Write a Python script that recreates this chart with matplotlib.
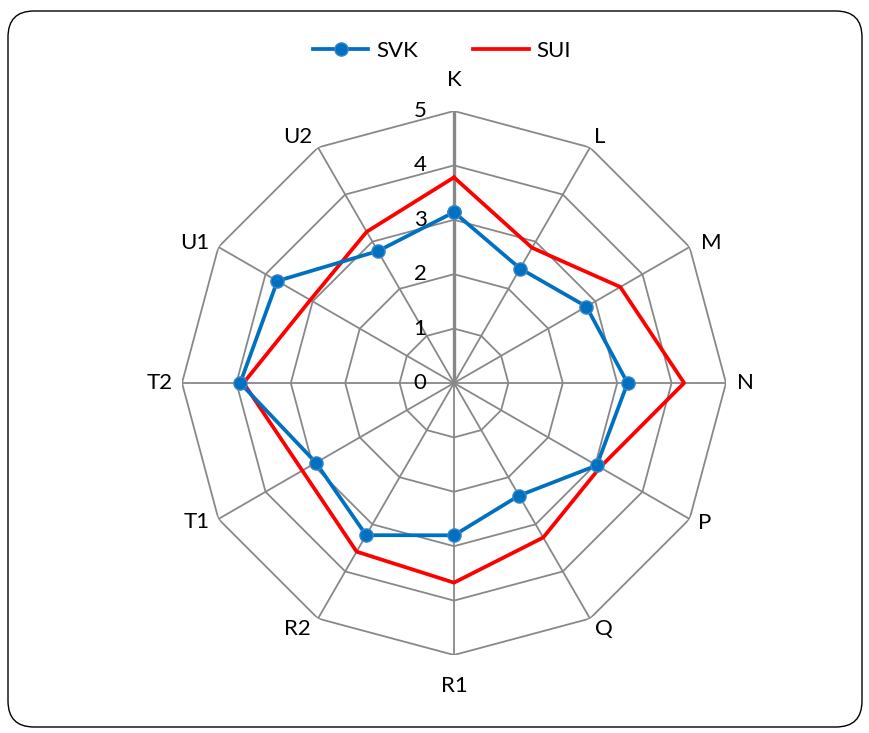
import numpy as np
import matplotlib
matplotlib.use("Agg")
import matplotlib.pyplot as plt
from matplotlib.patches import FancyBboxPatch

plt.rcParams['font.family'] = ['Lato', 'DejaVu Sans']

categories = ["K", "L", "M", "N", "P", "Q", "R1", "R2", "T1", "T2", "U1", "U2"]
svk = [3.14, 2.43, 2.81, 3.19, 3.03, 2.39, 2.80, 3.23, 2.93, 3.93, 3.75, 2.80]
sui = [3.78, 2.87, 3.53, 4.23, 3.10, 3.28, 3.67, 3.58, 3.22, 3.87, 3.05, 3.21]
rticks = [0, 1, 2, 3, 4, 5]

W, H = 869, 733
fig = plt.figure(figsize=(W / 100, H / 100), dpi=100)

# rounded outer frame
frame = FancyBboxPatch((8 / W, 6 / H), 854 / W, 716 / H,
                       boxstyle="round,pad=0,rounding_size=0.03",
                       transform=fig.transFigure, fill=False,
                       edgecolor="black", linewidth=1.0, zorder=0,
                       mutation_aspect=W / H)
fig.patches.append(frame)

cx, cy, R = 454, 383, 272
ax = fig.add_axes([(cx - R) / W, (H - cy - R) / H, 2 * R / W, 2 * R / H],
                  projection="polar")
ax.set_theta_zero_location("N")
ax.set_theta_direction(-1)
ax.set_ylim(0, 5)
ax.grid(False)
ax.spines["polar"].set_visible(False)
ax.set_xticks([])
ax.set_yticks([])
ax.patch.set_alpha(0)

n = len(categories)
angles = np.linspace(0, 2 * np.pi, n, endpoint=False)
closed = np.concatenate([angles, angles[:1]])

grid_col = "#888888"
for r in rticks[1:]:
    ax.plot(closed, [r] * (n + 1), color=grid_col, lw=1.3, zorder=1)
for i, a in enumerate(angles):
    ax.plot([a, a], [0, 5], color=grid_col, lw=2.4 if i == 0 else 1.3, zorder=1)

# radial value labels beside the top spoke
for r in rticks:
    ax.annotate(str(r), xy=(0, r), xytext=(-34, 0), textcoords="offset pixels",
                ha="center", va="center", fontsize=16, color="black")

# category labels around the web
label_offsets = [(0, 31), (10, 10), (22, 4), (19, 0), (15, -4), (14, -10),
                 (0, -31), (-21, -10), (-22, -3), (-22, 0), (-24, 4), (-20, 10)]
for a, lab, (dx, dy) in zip(angles, categories, label_offsets):
    ax.annotate(lab, xy=(a, 5), xytext=(dx, dy), textcoords="offset pixels",
                ha="center", va="center", fontsize=16, color="black")

ax.plot(closed, sui + sui[:1], color="#FF0000", lw=2.7, zorder=3, label="SUI")
ax.plot(closed, svk + svk[:1], color="#0070C0", lw=2.7, zorder=4,
        marker="o", markersize=9.5, markerfacecolor="#0070C0",
        markeredgecolor="#3a86cc", markeredgewidth=1.0, label="SVK")

handles, labels = ax.get_legend_handles_labels()
fig.legend(handles[::-1], labels[::-1], loc="center", ncol=2,
           bbox_to_anchor=(442 / W, 1 - 51 / H), frameon=False,
           fontsize=16, handlelength=2.5, columnspacing=2.5, handletextpad=0.35)

fig.savefig("out.png", dpi=100)
